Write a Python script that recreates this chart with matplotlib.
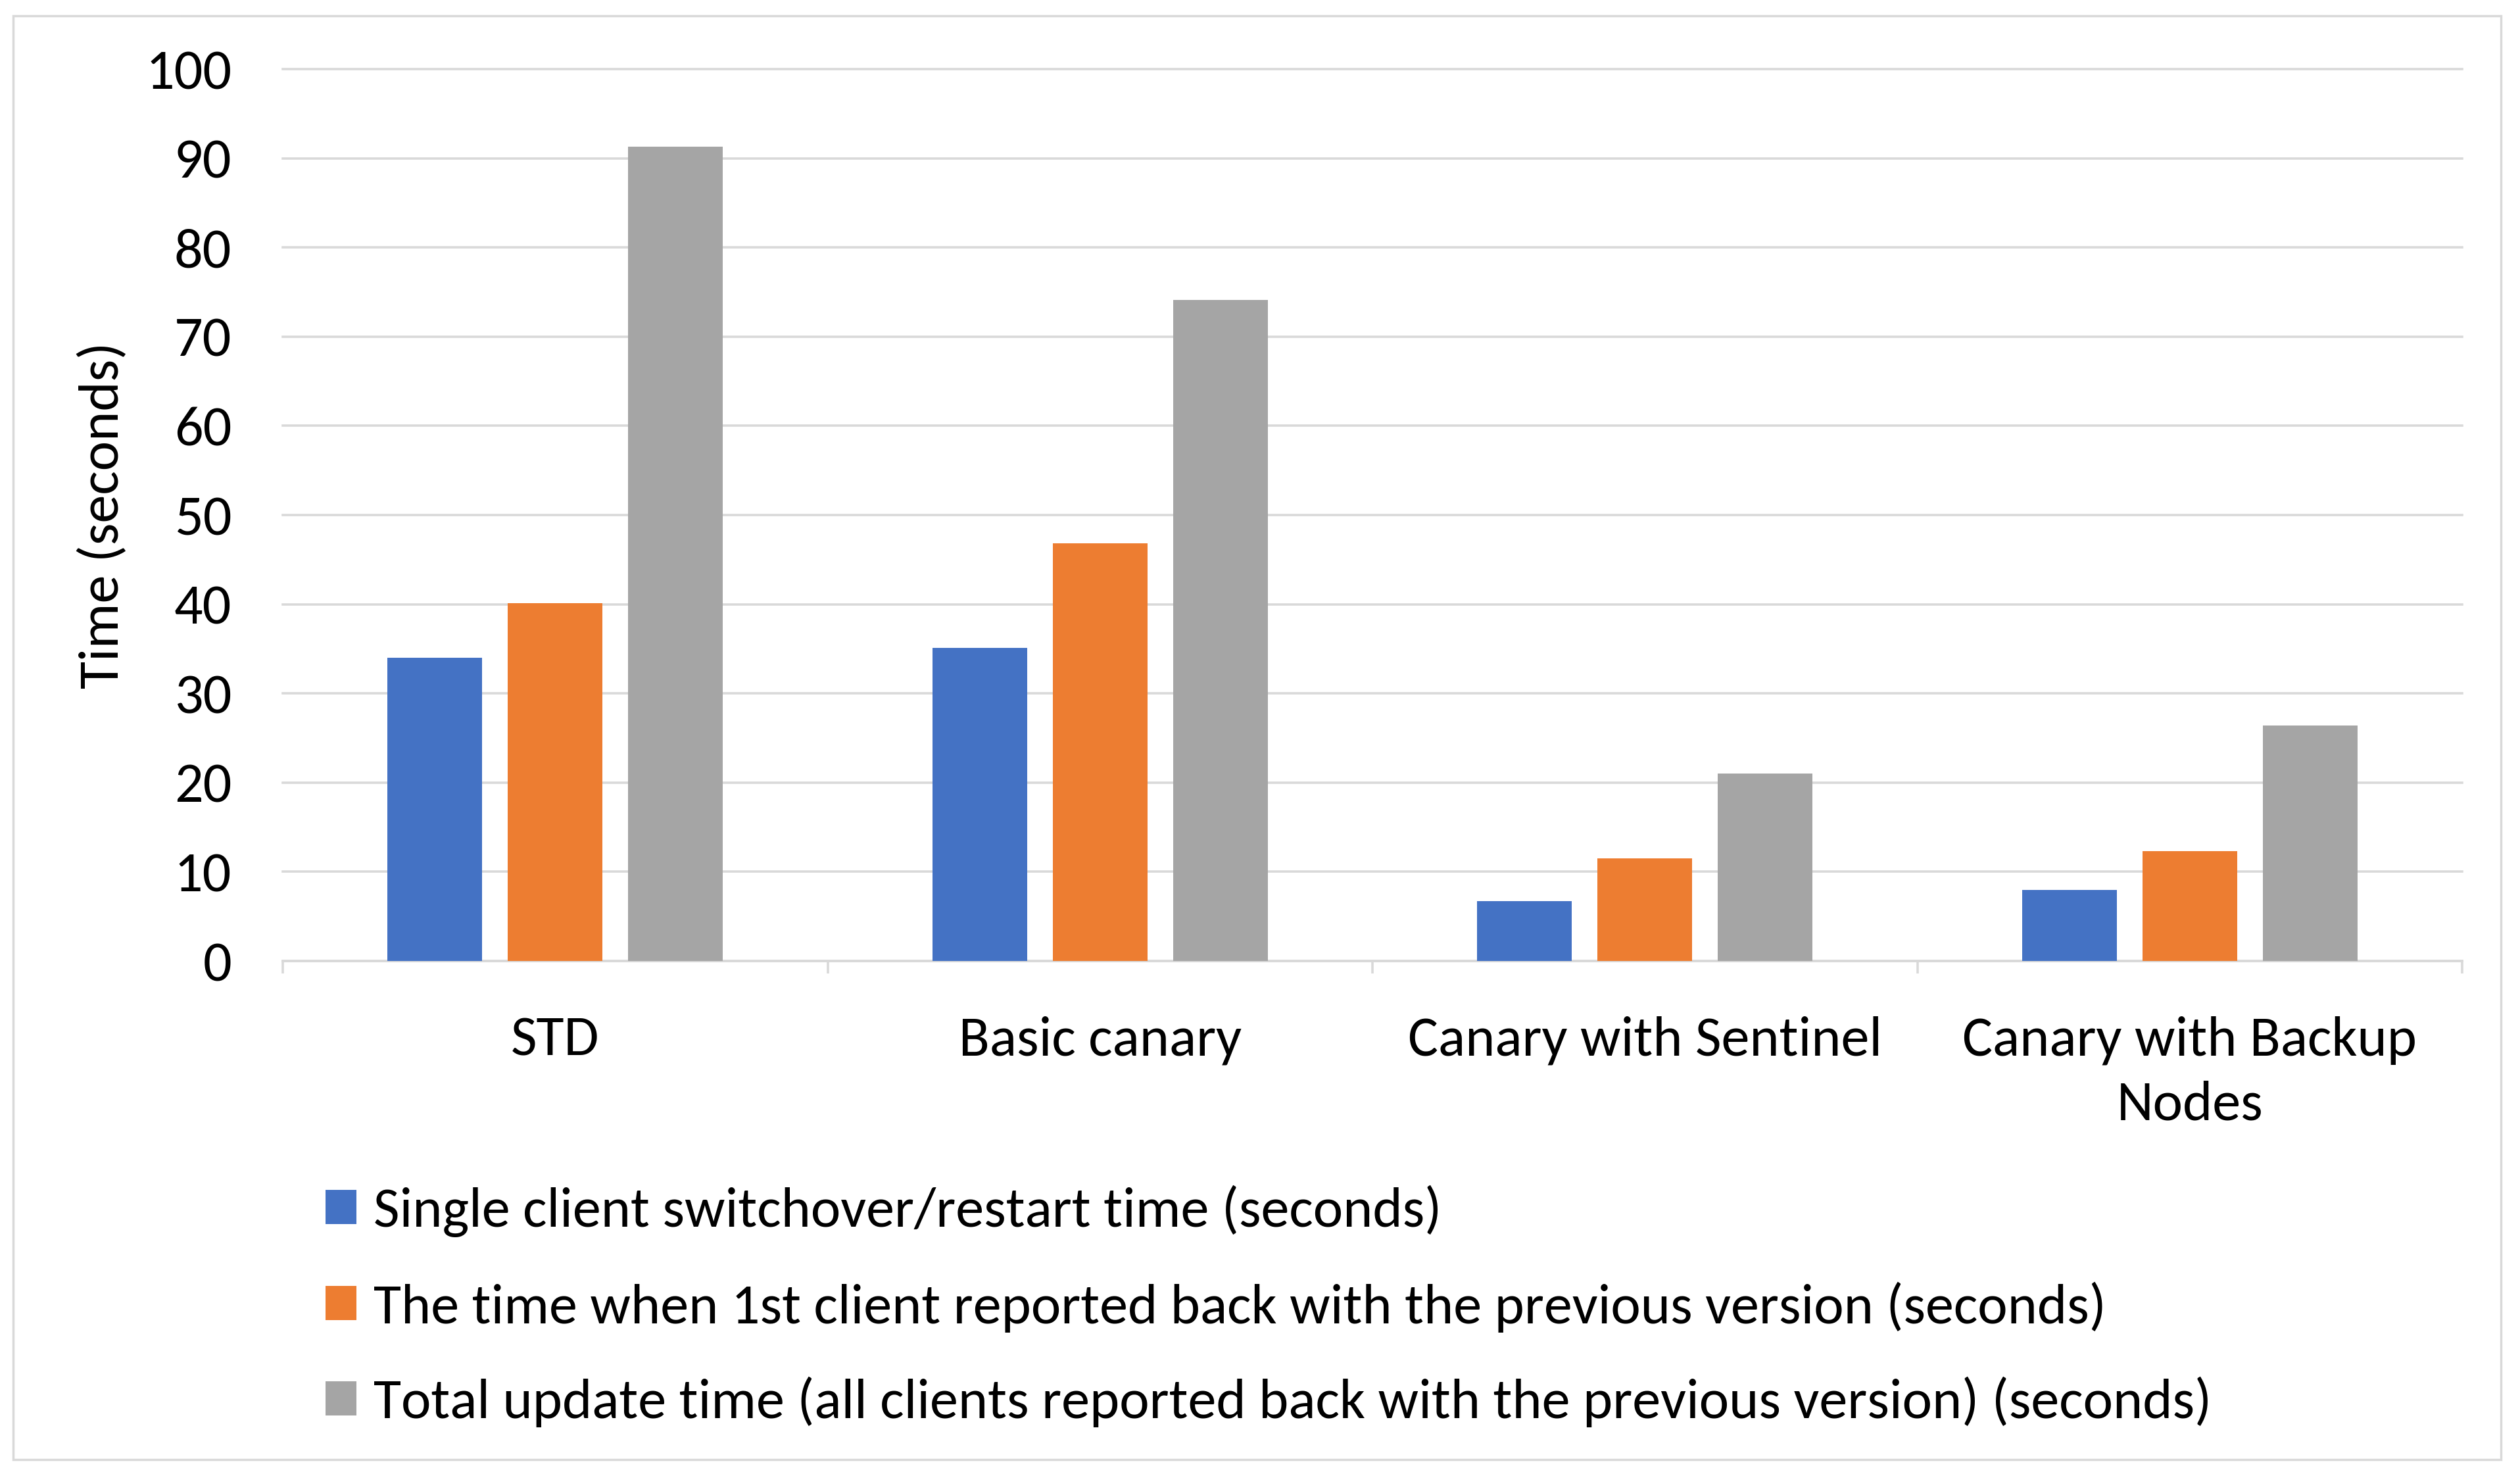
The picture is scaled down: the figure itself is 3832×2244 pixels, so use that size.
import numpy as np
import matplotlib
matplotlib.use('Agg')
import matplotlib.pyplot as plt
from matplotlib.patches import Rectangle, Patch

plt.rcParams['font.family'] = ['Carlito', 'Open Sans', 'DejaVu Sans']

#data
categories = ['STD', 'Basic canary', 'Canary with Sentinel', 'Canary with Backup\nNodes']
single_client = [34.0, 35.1, 6.7, 8.0]
first_client = [40.1, 46.8, 11.5, 12.3]
total_update = [91.3, 74.1, 21.0, 26.4]
series_names = ['Single client switchover/restart time (seconds)',
                'The time when 1st client reported back with the previous version (seconds)',
                'Total update time (all clients reported back with the previous version) (seconds)']
colors = ['#4472c4', '#ed7d31', '#a5a5a5']
grid_c = '#d9d9d9'

W, H = 3832, 2244
fig = plt.figure(figsize=(W / 100, H / 100), dpi=100)
fig.patch.set_facecolor('white')

# outer border
fig.patches.append(Rectangle((20 / W, 1 - 2219 / H), (3803 - 20) / W, (2219 - 24) / H,
                             transform=fig.transFigure, fill=False, edgecolor=grid_c, linewidth=2.5))

ax = fig.add_axes([430 / W, 1 - 1461 / H, (3744 - 430) / W, (1461 - 105) / H])
x = np.arange(len(categories))
step = 0.221
bw = 0.174
for i, vals in enumerate([single_client, first_client, total_update]):
    ax.bar(x + (i - 1) * step, vals, width=bw, color=colors[i], label=series_names[i], zorder=3)

ax.set_xlim(-0.5, len(categories) - 0.5)
ax.set_ylim(0, 100)
ax.set_yticks(np.arange(0, 101, 10))
ax.yaxis.grid(True, color=grid_c, linewidth=2.6, zorder=0)
for gl in ax.get_ygridlines():
    gl.set_clip_on(False)
for s in ['top', 'right', 'left']:
    ax.spines[s].set_visible(False)
ax.spines['bottom'].set_color(grid_c)
ax.spines['bottom'].set_linewidth(2.6)
ax.spines['bottom'].set_zorder(2)

fs = 62
ax.set_xticks(x)
ax.set_xticklabels(categories, fontsize=fs, linespacing=1.4)
ax.set_xticks(np.arange(-0.5, len(categories), 1), minor=True)
ax.tick_params(axis='x', which='major', length=0, pad=60)
ax.tick_params(axis='x', which='minor', length=14, width=2.6, color=grid_c, direction='out')
ax.tick_params(axis='y', length=0, pad=56, labelsize=fs)
ax.set_ylabel('Time (seconds)', fontsize=fs)
ax.yaxis.set_label_coords((194 - 430) / (3744 - 430), 0.5)

handles = [Patch(facecolor=c, edgecolor='none') for c in colors]
fig.legend(handles, series_names, loc='upper left', bbox_to_anchor=(495 / W, 1 - 1802 / H),
           frameon=False, fontsize=fs, handlelength=0.55, handleheight=0.55,
           handletextpad=0.3, labelspacing=0.78, borderpad=0, borderaxespad=0)

fig.savefig('out.png', dpi=100, facecolor='white')
